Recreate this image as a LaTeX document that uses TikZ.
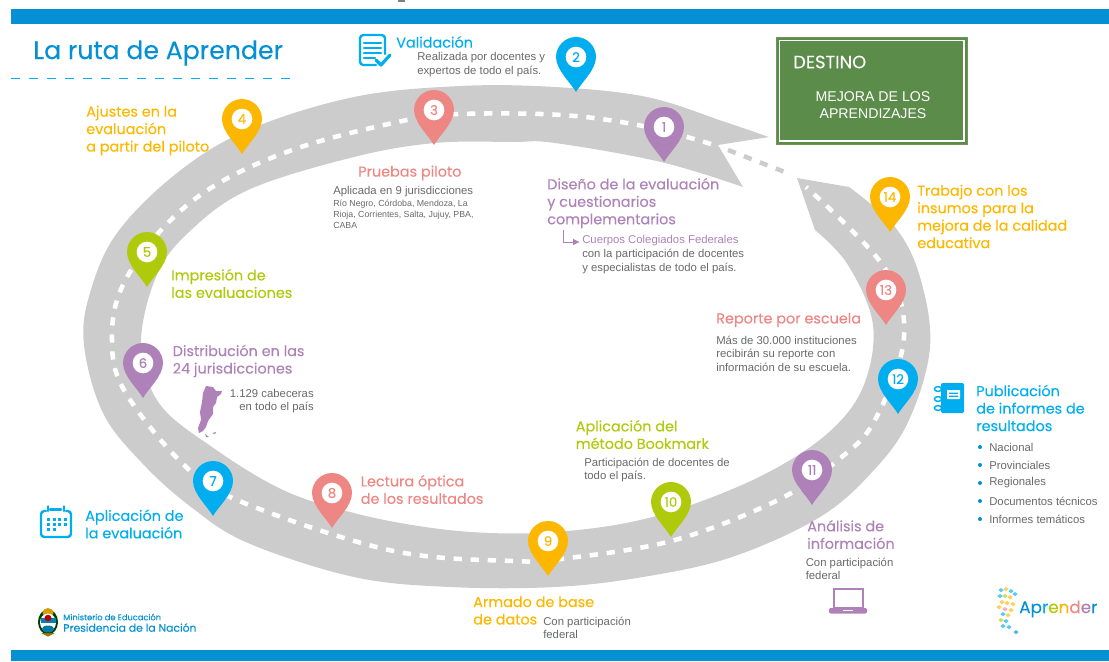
\documentclass[tikz,border=0pt]{standalone}
\usepackage{fontspec}
\setmainfont{Liberation Sans}
\newfontfamily\headfont[FakeBold=0.12]{Poppins}
\definecolor{barblue}{HTML}{0490D2}
\definecolor{cblue}{HTML}{00AEEF}
\definecolor{corange}{HTML}{FDB700}
\definecolor{csalmon}{HTML}{EE8683}
\definecolor{cgreen}{HTML}{AFCA0B}
\definecolor{cpurple}{HTML}{AE82B8}
\definecolor{road}{HTML}{CDCCCD}
\definecolor{body}{HTML}{68696B}
\definecolor{signgreen}{HTML}{5B8C49}
\newcommand{\pinmark}[5]{%
  \begin{scope}[shift={(#2,#3)}]
    \fill[#4] (0,35) .. controls (-5,26) and (-20,13) .. (-20,0)
      .. controls (-20,-11) and (-11,-20) .. (0,-20)
      .. controls (11,-20) and (20,-11) .. (20,0)
      .. controls (20,13) and (5,26) .. (0,35) -- cycle;
    \node[pinnum,text=#4] (#1) at (0,0) {#5};
  \end{scope}}
\tikzset{
  pinnum/.style={circle,fill=white,inner sep=0pt,minimum size=15.5pt,font=\headfont\fontsize{10}{10}\selectfont},
  head/.style={anchor=west,inner sep=0pt,align=left,font=\headfont\fontsize{10.8}{13.1}\selectfont},
  copy/.style={anchor=west,inner sep=0pt,align=left,text=body,font=\fontsize{8.5}{10.1}\selectfont},
  tiny copy/.style={anchor=west,inner sep=0pt,align=left,text=body,font=\fontsize{6.6}{8.1}\selectfont},
  dash line/.style={line width=3.4pt,dash pattern=on 6.2pt off 6.6pt},
  icon/.style={cblue,line width=1.6pt,line join=round,line cap=round},
}
\begin{document}
\begin{tikzpicture}[x=0.75pt,y=-0.75pt]
\useasboundingbox (0,0) rectangle (1109,661);
% bars
\fill[barblue] (11,9) rectangle (1109,24);
\fill[barblue] (11,650) rectangle (1109,661);
\fill[gray] (398,0) rectangle (405,1.5);
% road
\fill[road] (769,137)
  -- plot[smooth,tension=0.6] coordinates {(769,137) (725,122) (647,97) (555,87) (460,86) (354,97) (248,130) (177,173) (117,233) (90,293) (84,345) (103,413) (142,463) (191,507) (248,543) (354,577) (450,587) (555,587) (643,577) (732,557) (820,517) (874,470) (909,420) (930,347) (920,277) (895,227) (849,187)}
  -- (797,178) -- (815,230)
  -- plot[smooth,tension=0.6] coordinates {(815,230) (848,265) (873,325) (863,387) (828,433) (767,473) (691,505) (626,523) (555,532) (490,533) (425,527) (354,513) (283,490) (212,447) (159,403) (141,345) (156,277) (188,233) (248,190) (354,157) (435,143) (513,142) (555,143) (661,162) (743,187)}
  -- (718,145) -- cycle;
% centre line
\coordinate (gapA) at (728,150);
\coordinate (gapB) at (790,174);
\draw[white,dash line] plot[smooth,tension=0.6] coordinates {(711,144) (643,126) (562,115) (460,114) (407,120) (301,147) (219,183) (163,228) (122,287) (112,340) (124,390) (181,462) (237,500) (389,550) (513,561) (569,558) (675,540) (778,500) (838,460) (875,420) (904,337) (884,267) (806,187)};
\draw[road,dash line] (gapA) -- (gapB);
% heading
\node[head,text=barblue,font=\headfont\fontsize{18.9}{20}\selectfont] (title) at (33,53) {La ruta de Aprender};
\coordinate (ruleA) at (11,78.5);
\coordinate (ruleB) at (290,78.5);
\draw[cblue,line width=1.4pt,dash pattern=on 6.8pt off 6.7pt] (ruleA) -- (ruleB);
% sign
\node[fill=signgreen,draw=signgreen!90!white,line width=0.5pt,minimum width=143pt,minimum height=80pt,anchor=north west,inner sep=0pt] (sign) at (776,37) {};
\draw[white,line width=1pt] ([shift={(3.5,3.5)}]sign.north west) rectangle ([shift={(-3.5,-3.5)}]sign.south east);
\node[head,text=white,font=\headfont\fontsize{13.4}{14}\selectfont] (destino) at (793,62) {DESTINO};
\node[anchor=center,inner sep=0pt,align=center,text=white,font=\fontsize{10.6}{13.2}\selectfont] (mejora) at (873,105) {MEJORA DE LOS\\APRENDIZAJES};
% pins
\pinmark{p2}{576}{57}{cblue}{2}
\pinmark{p3}{434}{110}{csalmon}{3}
\pinmark{p1}{664}{127}{cpurple}{1}
\pinmark{p4}{242}{119}{corange}{4}
\pinmark{p5}{147}{252}{cgreen}{5}
\pinmark{p6}{143}{363}{cpurple}{6}
\pinmark{p7}{213}{481}{cblue}{7}
\pinmark{p8}{332}{493}{csalmon}{8}
\pinmark{p9}{548}{541}{corange}{9}
\pinmark{p10}{671}{502}{cgreen}{10}
\pinmark{p11}{812}{470}{cpurple}{11}
\pinmark{p12}{898}{379}{cblue}{12}
\pinmark{p13}{886}{290}{csalmon}{13}
\pinmark{p14}{890}{197}{corange}{14}
% labels
\node[head,text=cblue] (t2) at (396,42) {Validación};
\node[copy] (t2b) at (417,64.5) {Realizada por docentes y\\expertos de todo el país.};
\node[head,text=corange] (t4) at (86,130.5) {Ajustes en la\\evaluación\\a partir del piloto};
\node[head,text=csalmon] (t3) at (358,173) {Pruebas piloto};
\node[copy] (t3b) at (333,192) {Aplicada en 9 jurisdicciones};
\node[tiny copy] (t3c) at (333,214) {Río Negro, Córdoba, Mendoza, La\\Rioja, Corrientes, Salta, Jujuy, PBA,\\CABA};
\node[head,text=cpurple] (t1) at (547,203) {Diseño de la evaluación\\y cuestionarios\\complementarios};
\node[copy,text=cpurple] (t1b) at (582,241) {Cuerpos Colegiados Federales};
\node[copy] (t1c) at (582,261.5) {con la participación de docentes\\y especialistas de todo el país.};
\coordinate (elbowA) at (563,230);
\coordinate (elbowB) at (563,242);
\coordinate (elbowC) at (578,242);
\draw[cpurple,line width=0.5pt] (elbowA) -- (elbowB) -- (elbowC);
\fill[cpurple] (579.5,242) -- (573,238.8) -- (573,245.2) -- cycle;
\node[head,text=corange] (t14) at (917,216.5) {Trabajo con los\\insumos para la\\mejora de la calidad\\educativa};
\node[head,text=cgreen] (t5) at (171,283.5) {Impresión de\\las evaluaciones};
\node[head,text=cpurple] (t6) at (172.5,361) {Distribución en las\\24 jurisdicciones};
\node[copy,align=right,anchor=east] (t6b) at (314,401) {1.129 cabeceras\\en todo el país};
\node[head,text=csalmon] (t13) at (716,320) {Reporte por escuela};
\node[copy] (t13b) at (716,353.5) {Más de 30.000 instituciones\\recibirán su reporte con\\información de su escuela.};
\node[head,text=cblue] (t12) at (976,408) {Publicación\\de informes de\\resultados};
\fill[barblue] (980,447) circle (2) (980,465) circle (2) (980,483) circle (2) (980,501) circle (2) (980,519) circle (2);
\node[copy] (b1) at (989,447) {Nacional};
\node[copy] (b2) at (989,465) {Provinciales};
\node[copy] (b3) at (989,483) {Regionales};
\node[copy] (b4) at (989,501) {Documentos técnicos};
\node[copy] (b5) at (989,519) {Informes temáticos};
\node[head,text=cgreen] (t10) at (575.5,434.5) {Aplicación del\\método Bookmark};
\node[copy] (t10b) at (584,470) {Participación de docentes de\\todo el país.};
\node[head,text=csalmon] (t8) at (360.5,489.5) {Lectura óptica\\de los resultados};
\node[head,text=cblue] (t7) at (85,524) {Aplicación de\\la evaluación};
\node[head,text=cpurple] (t11) at (807,534.5) {Análisis de\\información};
\node[copy] (t11b) at (805.5,569) {Con participación\\federal};
\node[head,text=corange] (t9) at (473,610.5) {Armado de base\\de datos};
\node[copy] (t9b) at (543,628) {Con participación\\federal};
% Argentina
\fill[cpurple] (206,386) -- (213,387) -- (216,391) -- (222,391) -- (221,394) -- (217,397) -- (216,403) -- (213,407) -- (213,414) -- (208,421) -- (206,427) -- (203,431) -- (199,433) -- (198,428) -- (201,420) -- (200,412) -- (202,402) -- (203,393) -- cycle;
\fill[cpurple] (205,434) -- (209,437) -- (206,437) -- cycle (212,433) -- (216,432) -- (215,434) -- cycle;
% document icon
\draw[icon,line width=1.8pt,rounded corners=2.5pt] (376,65) -- (360,65) -- (360,35) -- (385,35) -- (385,54);
\draw[icon,line width=1.8pt] (364,43) -- (381,43) (364,48) -- (381,48) (364,53) -- (381,53) (364,58) -- (375,58);
\draw[icon,line width=2.4pt] (376,60) -- (381,65) -- (390,55);
% calendar icon
\draw[icon,line width=1.8pt,rounded corners=2.5pt] (46,511) -- (41,511) -- (41,537) -- (71,537) -- (71,511) -- (66,511);
\draw[icon,line width=2.2pt] (48,506.5) -- (48,511) (64,506.5) -- (64,511) (50,509.5) -- (61,509.5);
\foreach \px in {47,52.5,58,63.5}{\foreach \py in {518,523}{\fill[cblue] (\px,\py) rectangle +(3.4,3);}}
\foreach \px in {47,52.5}{\fill[cblue] (\px,528) rectangle +(3.4,3);}
% notebook icon
\fill[cblue,rounded corners=1pt] (941,383) rectangle (964,413);
\fill[white,rounded corners=0.5pt] (947,390) rectangle (960,399);
\fill[cblue] (949,392.5) rectangle (958,393.8) (949,395.5) rectangle (958,396.8);
\foreach \py in {389,399,408}{\draw[cblue,line width=1.1pt,fill=white] (938,\py) ellipse (3.6 and 2.4);}
% laptop icon
\draw[cpurple,line width=1.8pt] (834,589) rectangle (863,608);
\fill[cpurple,rounded corners=1pt] (829,608) rectangle (867,613.5);
\fill[white] (843,609.6) rectangle (853,611);
% footer left
\fill[black!75!green] (48,622) ellipse (10 and 12.5);
\fill[corange!85!black] (48,613) ellipse (5.5 and 5);
\fill[white] (48,622.5) ellipse (8 and 9);
\fill[cblue!75!black] (40.5,618) rectangle (55.5,623);
\fill[red!75!black] (48,618) ellipse (3.5 and 3.2);
\fill[cblue!70!black] (48,629) ellipse (6.2 and 3.5);
\fill[corange!60!black] (41,633) -- (55,633) -- (48,636.5) -- cycle;
\node[anchor=west,inner sep=0pt,text=barblue,font=\headfont\fontsize{6.2}{7}\selectfont] (ministerio) at (63,617) {Ministerio de Educación};
\node[anchor=west,inner sep=0pt,text=barblue,font=\headfont\fontsize{8.1}{9}\selectfont] (presidencia) at (63,627.5) {Presidencia de la Nación};
% Aprender logo
\foreach \bx/\by/\bc in {1001/590/cblue,1006/589/corange,1011/591/cblue,1015/594/cblue,1000/596/cblue,1005/596/cgreen,1010/597/corange,1002/602/corange,1007/603/corange,1013/604/corange,999/607/corange,1005/609/csalmon,1011/610/corange,1003/614/cblue,1008/615/corange,1001/620/cgreen,1006/621/cblue,1003/626/cblue,1009/627/cblue,1016/632/barblue}{
  \fill[\bc!65!white] (\bx-2.6,\by) -- (\bx,\by-2) -- (\bx+2.6,\by) -- (\bx,\by+2.4) -- cycle;}
\node[anchor=west,inner sep=0pt,font=\headfont\fontsize{12.6}{14}\selectfont] (aprender) at (1019,609) {\textcolor{barblue}{Ap}\textcolor{cblue}{r}\textcolor{cgreen}{e}\textcolor{corange}{n}\textcolor{csalmon}{d}\textcolor{cpurple}{e}\textcolor{barblue}{r}};
\end{tikzpicture}
\end{document}
